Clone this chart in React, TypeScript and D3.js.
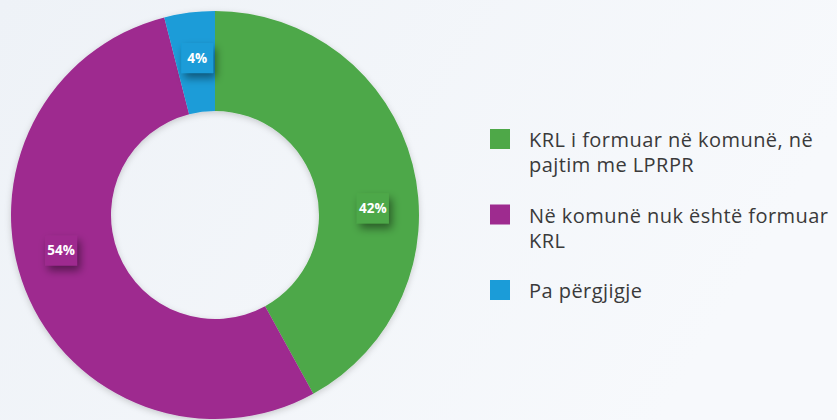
import { useEffect, useRef } from 'react'
import * as d3 from 'd3'

const categories = [
  'KRL i formuar në komunë, në pajtim me LPRPR',
  'Në komunë nuk është formuar KRL',
  'Pa përgjigje'
]
const values = [42, 54, 4]
const legendLines = [
  ['KRL i formuar në komunë, në', 'pajtim me LPRPR'],
  ['Në komunë nuk është formuar', 'KRL'],
  ['Pa përgjigje']
]
const colors = ['#4ea848', '#9e2b8f', '#1b9cd8']

// label angle nudges (degrees) to sit the value boxes where the original puts them
const labelNudge = [12, 8.6, 0.7]

export default function App() {
  const svgRef = useRef<SVGSVGElement>(null)
  const width = 837
  const height = 420

  useEffect(() => {
    const svg = d3.select(svgRef.current)
    svg.selectAll('*').remove()

    const defs = svg.append('defs')
    const grad = defs.append('linearGradient')
      .attr('id', 'bg')
      .attr('x1', '0').attr('y1', '0').attr('x2', '1').attr('y2', '0.3')
    grad.append('stop').attr('offset', '0%').attr('stop-color', '#eef2f7')
    grad.append('stop').attr('offset', '100%').attr('stop-color', '#f7f9fc')

    const shadow = defs.append('filter').attr('id', 'ringShadow')
      .attr('x', '-20%').attr('y', '-20%').attr('width', '140%').attr('height', '140%')
    shadow.append('feDropShadow')
      .attr('dx', 0).attr('dy', 2).attr('stdDeviation', 3)
      .attr('flood-color', '#000').attr('flood-opacity', 0.18)

    const boxShadow = defs.append('filter').attr('id', 'boxShadow')
      .attr('x', '-60%').attr('y', '-60%').attr('width', '220%').attr('height', '220%')
    boxShadow.append('feDropShadow')
      .attr('dx', 3).attr('dy', 5).attr('stdDeviation', 4)
      .attr('flood-color', '#000').attr('flood-opacity', 0.45)

    svg.append('rect')
      .attr('width', width).attr('height', height)
      .attr('fill', 'url(#bg)')

    const cx = 215
    const cy = 215
    const outer = 204
    const inner = 104

    const pie = d3.pie<number>().sort(null).value(d => d)
    const arcs = pie(values)
    const arc = d3.arc<d3.PieArcDatum<number>>()
      .innerRadius(inner)
      .outerRadius(outer)

    const g = svg.append('g').attr('transform', `translate(${cx},${cy})`)

    g.append('g')
      .attr('filter', 'url(#ringShadow)')
      .selectAll('path')
      .data(arcs)
      .enter().append('path')
      .attr('d', arc)
      .attr('fill', (d, i) => colors[i])

    const labelR = 158
    const labels = g.append('g')
      .selectAll('g')
      .data(arcs)
      .enter().append('g')
      .attr('transform', (d, i) => {
        const a = (d.startAngle + d.endAngle) / 2 + labelNudge[i] * Math.PI / 180
        return `translate(${labelR * Math.sin(a)},${-labelR * Math.cos(a)})`
      })

    labels.append('rect')
      .attr('x', -16).attr('y', -15)
      .attr('width', 32)
      .attr('height', 30)
      .attr('fill', (d, i) => colors[i])
      .attr('filter', 'url(#boxShadow)')

    labels.append('text')
      .attr('text-anchor', 'middle')
      .attr('dy', '0.36em')
      .attr('fill', '#fff')
      .style('font', 'bold 13.5px "Open Sans", sans-serif')
      .text(d => `${d.data}%`)

    const legend = svg.append('g').attr('transform', 'translate(490,129)')
    const lineH = 25
    let y = 0
    categories.forEach((c, i) => {
      const item = legend.append('g').attr('transform', `translate(0,${y})`)
      item.append('rect')
        .attr('width', 20).attr('height', 20)
        .attr('fill', colors[i])
      const t = item.append('text')
        .attr('x', 39)
        .attr('y', 18)
        .attr('fill', '#3a3a3a')
        .style('font', '20px "Open Sans", sans-serif')
        .style('letter-spacing', '0.45px')
      legendLines[i].forEach((ln, j) => {
        t.append('tspan').attr('x', 39).attr('dy', j === 0 ? 0 : lineH).text(ln)
      })
      y += legendLines[i].length * lineH + 25.5
    })
  }, [])

  return (
    <svg
      ref={svgRef}
      width={width}
      height={height}
      style={{ position: 'absolute', left: 0, top: 0, display: 'block' }}
    />
  )
}
